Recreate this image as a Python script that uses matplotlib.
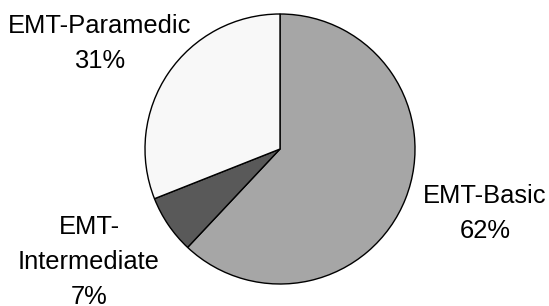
"""
EMT certification level pie chart
"""

import matplotlib
matplotlib.use('Agg')
import matplotlib.pyplot as plt

# Data
labels = ['EMT-Basic', 'EMT-\nIntermediate', 'EMT-Paramedic']
shares = [62, 7, 31]
colors = ['#a6a6a6', '#595959', '#f8f8f8']

plt.rcParams['font.family'] = ['Liberation Sans', 'DejaVu Sans']

W, H = 549, 306
fig = plt.figure(figsize=(W / 100, H / 100), dpi=100)
ax = fig.add_axes([0, 0, 1, 1])

# pie centre (pixels) and radius
cx, cy, r = 280, 149, 135

ax.pie(shares, colors=colors, startangle=90, counterclock=False,
       wedgeprops=dict(edgecolor='black', linewidth=1.0))

ax.set_xlim(-cx / r, (W - cx) / r)
ax.set_ylim((cy - H) / r, cy / r)
ax.set_aspect('auto')
ax.axis('off')

# label anchors in pixels: centre x, last-line baseline y
label_pos = [(485, 238), (89, 304), (100, 68)]
for lab, pct, (px, py) in zip(labels, shares, label_pos):
    ax.text((px - cx) / r, (cy - py) / r, f'{lab}\n{pct}%',
            ha='center', va='baseline', multialignment='center',
            fontsize=18.4, linespacing=1.58)

plt.savefig('out.png', dpi=100)
plt.close()
